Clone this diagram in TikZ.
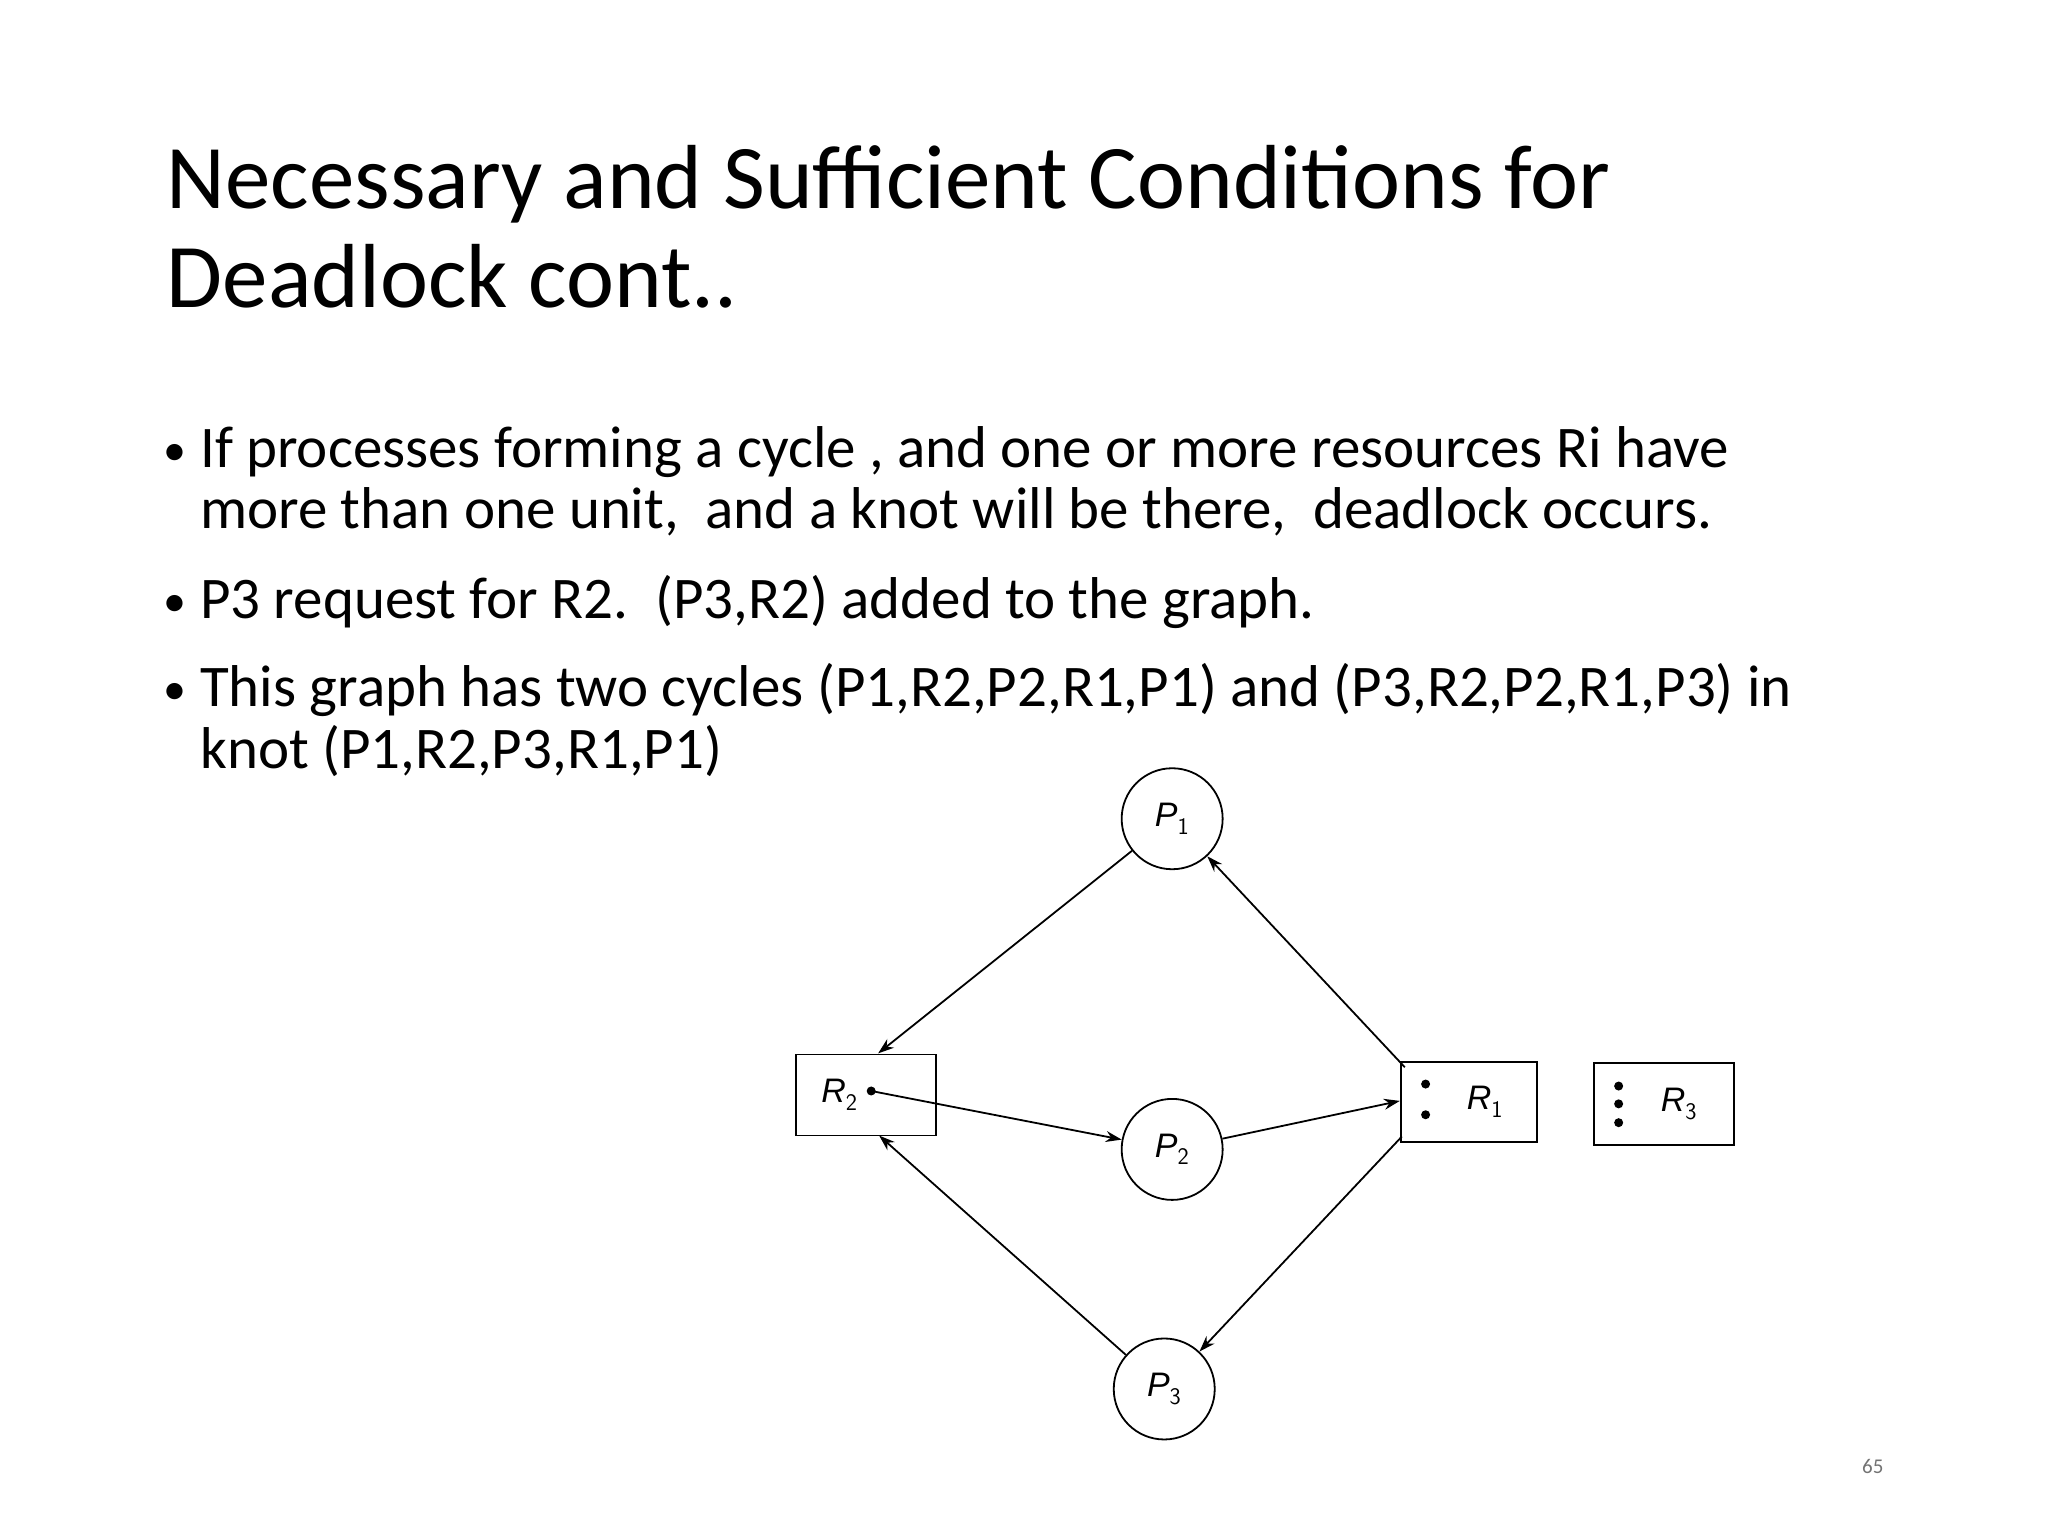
\documentclass[tikz,border=0pt]{standalone}
\usepackage{fontspec}
\setmainfont{Carlito}
\newfontfamily\lbl{Liberation Sans}
\usetikzlibrary{arrows.meta}
\begin{document}
\begin{tikzpicture}[x=0.99pt,y=-0.99pt,
  proc/.style={circle,draw,line width=1.8pt,minimum size=101pt,inner sep=0pt,font=\lbl\itshape\fontsize{34}{34}\selectfont},
  res/.style={draw,line width=1.8pt,inner sep=0pt},
  edge/.style={line width=1.8pt,-{Stealth[length=16pt,width=11pt]}},
  dotr/.style={circle,fill,inner sep=0pt,minimum size=9pt},
  rl/.style={font=\lbl\itshape\fontsize{34}{34}\selectfont,inner sep=0pt}]
\useasboundingbox (0,0) rectangle (2068.7,1551.5);
\node[anchor=base west,font=\fontsize{91}{100}\selectfont] (t1) at (165,211) {Necessary and Sufficient Conditions for};
\node[anchor=base west,font=\fontsize{91}{100}\selectfont] (t2) at (165,311) {Deadlock cont..};
\tikzset{bt/.style={anchor=base west,font=\fontsize{59}{62}\selectfont,inner sep=0pt}}
\node[bt,font=\fontsize{46}{46}\selectfont] (b1) at (165,470) {•};
\node[bt] (l1) at (202,472) {If processes forming a cycle , and one or more resources Ri have};
\node[bt] (l2) at (202,534) {more than one unit,\ \ and a knot will be there,\ \ deadlock occurs.};
\node[bt,font=\fontsize{46}{46}\selectfont] (b2) at (165,623) {•};
\node[bt] (l3) at (202,625) {P3 request for R2.\ \ (P3,R2) added to the graph.};
\node[bt,font=\fontsize{46}{46}\selectfont] (b3) at (165,712) {•};
\node[bt] (l4) at (202,714) {This graph has two cycles (P1,R2,P2,R1,P1) and (P3,R2,P2,R1,P3) in};
\node[bt] (l5) at (202,776) {knot (P1,R2,P3,R1,P1)};
\node[anchor=base east,font=\fontsize{21}{21}\selectfont,text=black!55] (pg) at (1906,1488) {65};
% graph
\node[proc] (P1) at (1184,827) {P$_{\mathsf{1}}$};
\node[proc] (P2) at (1184,1161) {P$_{\mathsf{2}}$};
\node[proc] (P3) at (1176,1403) {P$_{\mathsf{3}}$};
\node[res,minimum width=140pt,minimum height=81pt] (R2) at (875,1106) {};
\node[res,minimum width=136pt,minimum height=80pt] (R1) at (1484,1113) {};
\node[res,minimum width=140pt,minimum height=82pt] (R3) at (1681,1115) {};
\node[rl] (R2l) at (842,1106) {R\rlap{$_{\mathsf{2}}$}};
\node[rl] (R1l) at (1494,1113) {R\rlap{$_{\mathsf{1}}$}};
\node[rl] (R3l) at (1690,1115) {R\rlap{$_{\mathsf{3}}$}};
\node[dotr] (d2) at (880,1102) {};
\node[dotr] (d1a) at (1440,1095) {};
\node[dotr] (d1b) at (1440,1126) {};
\node[dotr] (d3a) at (1635,1097) {};
\node[dotr] (d3b) at (1635,1115) {};
\node[dotr] (d3c) at (1635,1134) {};
\coordinate (r2top) at (887,1064);
\coordinate (r2bot) at (888,1147);
\coordinate (r1left) at (1414,1112);
\coordinate (r1tl) at (1419,1078);
\coordinate (r1bl) at (1416,1148);
\draw[edge] (P1) -- (r2top);
\draw[edge] (d2.center) -- (P2);
\draw[edge] (P2) -- (r1left);
\draw[edge] (r1tl) -- (P1);
\draw[edge] (r1bl) -- (P3);
\draw[edge] (P3) -- (r2bot);
\end{tikzpicture}
\end{document}
